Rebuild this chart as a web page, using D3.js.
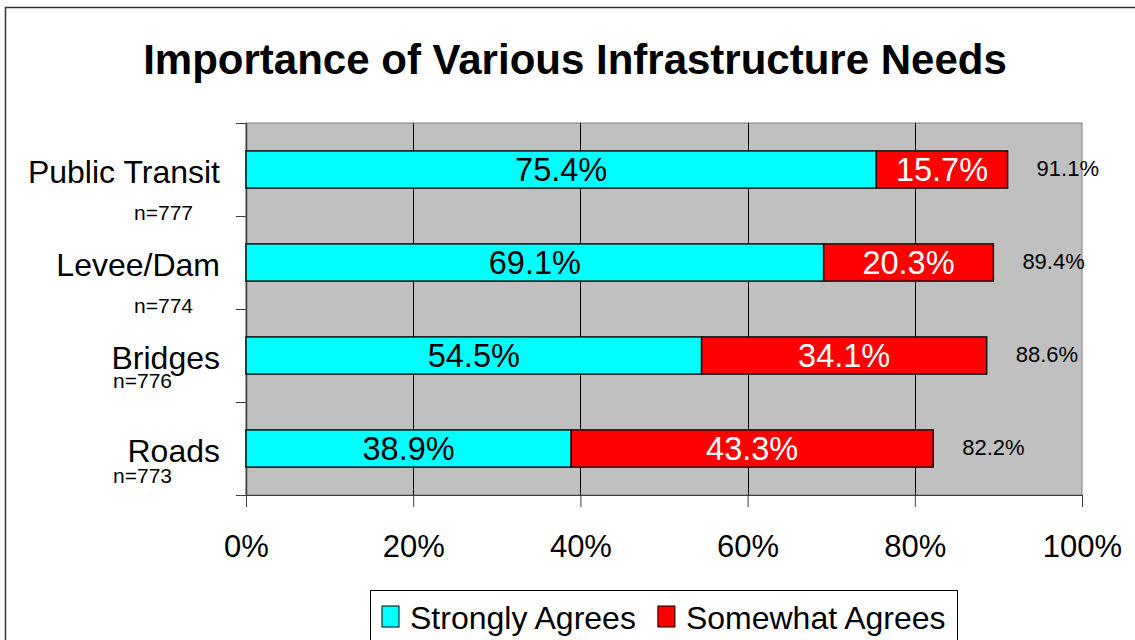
<!DOCTYPE html>
<meta charset="utf-8">
<style>
    body { margin: 0; background: #fff; }
    svg { font-family: Arial, "Liberation Sans", sans-serif; }
</style>
<body>
<script src="https://cdn.jsdelivr.net/npm/d3@7"></script>
<script>
    // chart data
    const categories = ['Public Transit', 'Levee/Dam', 'Bridges', 'Roads'];
    const sampleSizes = ['n=777', 'n=774', 'n=776', 'n=773'];
    const strongly = [75.4, 69.1, 54.5, 38.9];
    const somewhat = [15.7, 20.3, 34.1, 43.3];
    const totals = [91.1, 89.4, 88.6, 82.2];
    const seriesNames = ['Strongly Agrees', 'Somewhat Agrees'];
    const seriesColors = ['#00ffff', '#ff0000'];
    const xTicks = [0, 20, 40, 60, 80, 100];

    // where excel dropped the n= labels (dx from label edge, dy below band centre)
    const nLabelPos = [[-27, 50.5], [-27, 50.5], [-48, 32], [-48, 34]];

    const width = 1135, height = 640;
    const plot = {left: 246, right: 1082, top: 123, bottom: 495};

    const svg = d3.select('body').append('svg')
        .attr('width', width)
        .attr('height', height);

    // outer chart border
    svg.append('rect')
        .attr('x', 5.5).attr('y', 7.5)
        .attr('width', 1140).attr('height', 660)
        .attr('fill', 'none')
        .attr('stroke', '#333')
        .attr('stroke-width', 1.5);

    svg.append('text')
        .attr('x', 575).attr('y', 74)
        .attr('text-anchor', 'middle')
        .style('font-size', '42px')
        .style('font-weight', 'bold')
        .text('Importance of Various Infrastructure Needs');

    const x = d3.scaleLinear().domain([0, 100]).range([plot.left, plot.right]);
    const y = d3.scaleBand().domain(categories)
        .range([plot.top, plot.bottom])
        .paddingInner(0.6).paddingOuter(0.3);

    // plot background
    svg.append('rect')
        .attr('x', plot.left).attr('y', plot.top)
        .attr('width', plot.right - plot.left).attr('height', plot.bottom - plot.top)
        .attr('fill', '#c0c0c0')
        .attr('stroke', '#808080');

    // vertical gridlines
    svg.append('g').selectAll('line')
        .data(xTicks.filter(d => d > 0 && d < 100))
        .enter().append('line')
        .attr('x1', d => Math.round(x(d)) + 0.5).attr('x2', d => Math.round(x(d)) + 0.5)
        .attr('y1', plot.top).attr('y2', plot.bottom)
        .attr('stroke', '#000');

    // x axis
    const xAxis = d3.axisBottom(x)
        .tickValues(xTicks)
        .tickSize(12)
        .tickPadding(28)
        .tickFormat(d => d + '%');
    const gx = svg.append('g')
        .attr('transform', 'translate(0,' + plot.bottom + ')')
        .call(xAxis);
    gx.select('.domain').attr('stroke', '#404040');
    gx.selectAll('.tick line').attr('stroke', '#404040');
    gx.selectAll('.tick text')
        .attr('fill', '#000')
        .style('font-size', '31px')
        .style('font-family', 'Arial, "Liberation Sans", sans-serif');

    // y axis line + ticks between categories
    const yBounds = d3.range(categories.length + 1).map(i => plot.top + i * y.step());
    svg.append('line')
        .attr('x1', plot.left + 0.5).attr('x2', plot.left + 0.5)
        .attr('y1', plot.top).attr('y2', plot.bottom)
        .attr('stroke', '#404040').attr('stroke-width', 1.5);
    svg.append('g').selectAll('line')
        .data(yBounds)
        .enter().append('line')
        .attr('x1', plot.left - 10).attr('x2', plot.left)
        .attr('y1', d => Math.round(d) + 0.5).attr('y2', d => Math.round(d) + 0.5)
        .attr('stroke', '#404040');

    // stacked bars
    const rows = categories.map((c, i) => ({cat: c, a: strongly[i], b: somewhat[i], t: totals[i], n: sampleSizes[i], i: i}));

    const bars = svg.append('g');
    bars.selectAll('rect.strong')
        .data(rows)
        .enter().append('rect')
        .attr('class', 'strong')
        .attr('x', d => x(0))
        .attr('y', d => y(d.cat))
        .attr('width', d => x(d.a) - x(0))
        .attr('height', y.bandwidth())
        .attr('fill', seriesColors[0])
        .attr('stroke', '#111')
        .attr('stroke-width', 1.5);
    bars.selectAll('rect.some')
        .data(rows)
        .enter().append('rect')
        .attr('class', 'some')
        .attr('x', d => x(d.a))
        .attr('y', d => y(d.cat))
        .attr('width', d => x(d.a + d.b) - x(d.a))
        .attr('height', y.bandwidth())
        .attr('fill', seriesColors[1])
        .attr('stroke', '#111')
        .attr('stroke-width', 1.5);

    // value labels
    const mid = d => y(d.cat) + y.bandwidth() / 2;
    bars.selectAll('text.strong')
        .data(rows)
        .enter().append('text')
        .attr('x', d => x(d.a / 2))
        .attr('y', mid)
        .attr('dy', '0.36em')
        .attr('text-anchor', 'middle')
        .style('font-size', '32.5px')
        .text(d => d.a.toFixed(1) + '%');
    bars.selectAll('text.some')
        .data(rows)
        .enter().append('text')
        .attr('x', d => x(d.a + d.b / 2))
        .attr('y', mid)
        .attr('dy', '0.36em')
        .attr('text-anchor', 'middle')
        .attr('fill', '#fff')
        .style('font-size', '32.5px')
        .text(d => d.b.toFixed(1) + '%');
    bars.selectAll('text.total')
        .data(rows)
        .enter().append('text')
        .attr('x', d => x(d.a + d.b) + 29)
        .attr('y', mid)
        .attr('dy', '0.3em')
        .style('font-size', '22px')
        .text(d => d.t.toFixed(1) + '%');

    // category labels
    const labels = svg.append('g');
    labels.selectAll('text.cat')
        .data(rows)
        .enter().append('text')
        .attr('x', 220)
        .attr('y', d => mid(d) + 13.5)
        .attr('text-anchor', 'end')
        .style('font-size', '32px')
        .text(d => d.cat);
    labels.selectAll('text.n')
        .data(rows)
        .enter().append('text')
        .attr('x', d => 220 + nLabelPos[d.i][0])
        .attr('y', d => mid(d) + nLabelPos[d.i][1])
        .attr('text-anchor', 'end')
        .style('font-size', '21px')
        .text(d => d.n);

    // legend
    const legend = svg.append('g');
    legend.append('rect')
        .attr('x', 370.5).attr('y', 590.5)
        .attr('width', 587).attr('height', 70)
        .attr('fill', '#fff')
        .attr('stroke', '#000');
    let lx = 382;
    seriesNames.forEach((name, i) => {
        legend.append('rect')
            .attr('x', lx).attr('y', 606)
            .attr('width', 17).attr('height', 21)
            .attr('fill', seriesColors[i])
            .attr('stroke', '#000');
        const t = legend.append('text')
            .attr('x', lx + 28).attr('y', 629)
            .style('font-size', '32px')
            .text(name);
        lx += 28 + t.node().getComputedTextLength() + 22;
    });
</script>
</body>
